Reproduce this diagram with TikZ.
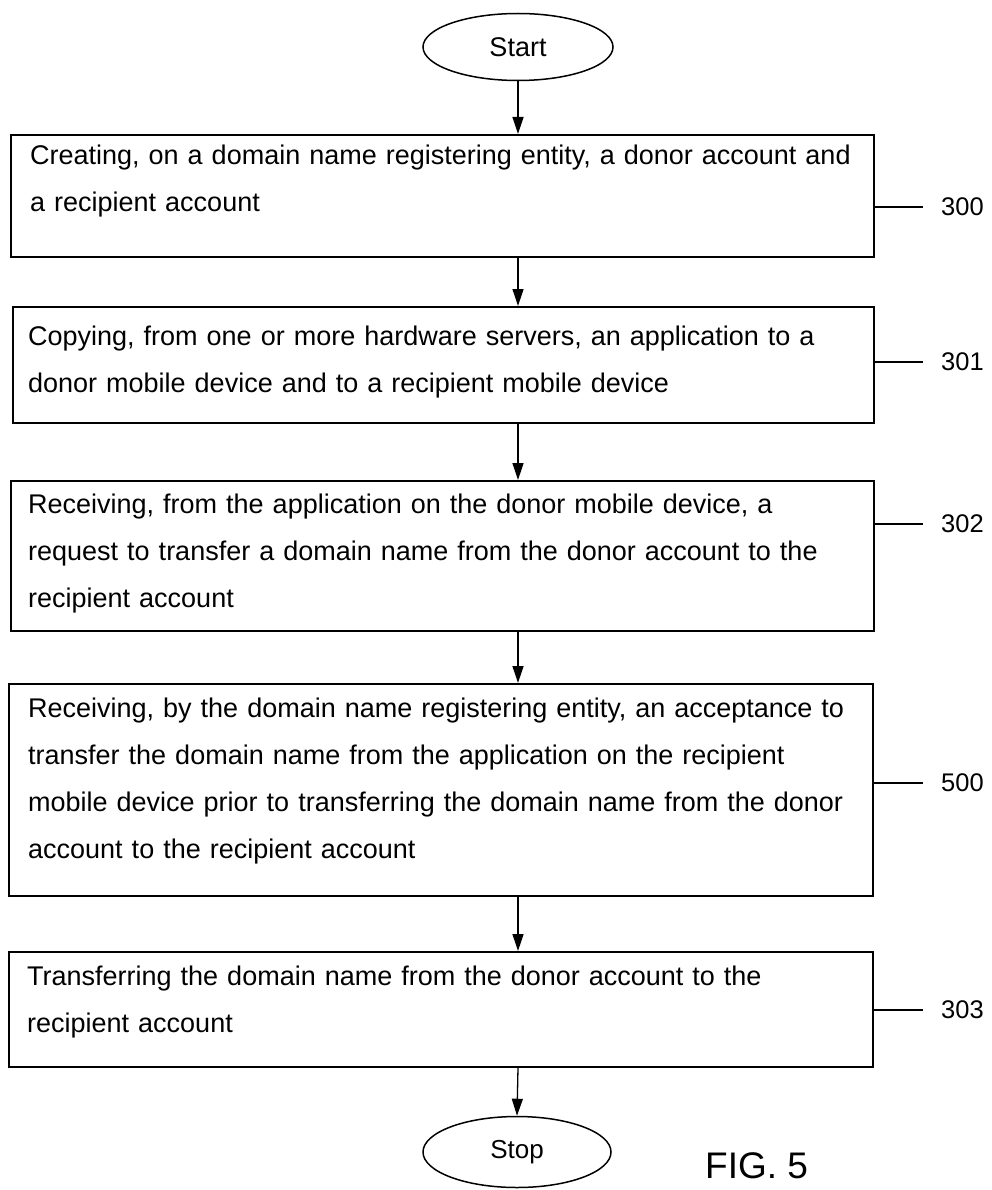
\documentclass[tikz,border=0pt]{standalone}
\usepackage{fontspec}
\setmainfont{Liberation Sans}
\usetikzlibrary{arrows.meta,shapes.geometric}
\begin{document}
\begin{tikzpicture}[x=1pt,y=-1pt,
  boxnode/.style={draw=black, line width=1.6pt, rectangle, anchor=north west, inner sep=0pt},
  bodytext/.style={anchor=base west, inner sep=0pt, text width=850pt, align=left, font=\fontsize{27pt}{47pt}\selectfont},
  term/.style={draw=black, ellipse, line width=1.5pt, inner sep=0pt},
  flow/.style={line width=1.3pt, -{Triangle[width=11pt,length=17pt]}},
  tick/.style={line width=1.5pt},
  reflabel/.style={anchor=west, inner sep=0pt, font=\fontsize{25.5pt}{30pt}\selectfont}
]
\useasboundingbox (0,0) rectangle (992,1190);

\node[term, minimum width=190pt, minimum height=67pt, font=\fontsize{27pt}{32pt}\selectfont] (start) at (518,47) {Start};

\node[boxnode, minimum width=863pt, minimum height=122pt] (b1) at (10,134) {};
\node[boxnode, minimum width=861pt, minimum height=116pt] (b2) at (12,306) {};
\node[boxnode, minimum width=863pt, minimum height=150pt] (b3) at (10,480) {};
\node[boxnode, minimum width=864pt, minimum height=212pt] (b4) at (8,683) {};
\node[boxnode, minimum width=864pt, minimum height=115pt] (b5) at (8,951) {};

\node[bodytext] (t1) at (30,165) {Creating, on a domain name registering entity, a donor account and\\a recipient account};
\node[bodytext] (t2) at (28,345) {Copying, from one or more hardware servers, an application to a\\donor mobile device and to a recipient mobile device};
\node[bodytext] (t3) at (28,513) {Receiving, from the application on the donor mobile device, a\\request to transfer a domain name from the donor account to the\\recipient account};
\node[bodytext] (t4) at (28,717) {Receiving, by the domain name registering entity, an acceptance to\\transfer the domain name from the application on the recipient\\mobile device prior to transferring the domain name from the donor\\account to the recipient account};
\node[bodytext] (t5) at (27,985) {Transferring the domain name from the donor account to the\\recipient account};

\node[term, minimum width=188pt, minimum height=71pt, font=\fontsize{26pt}{30pt}\selectfont] (stop) at (517,1152) {Stop};

\node[anchor=base west, inner sep=0pt, font=\fontsize{37pt}{44pt}\selectfont] (fig) at (705,1178) {FIG. 5};

\draw[flow] (start.south) -- (start.south |- b1.north);
\draw[flow] (b1.south -| start) -- (b2.north -| start);
\draw[flow] (b2.south -| start) -- (b3.north -| start);
\draw[flow] (b3.south -| start) -- (b4.north -| start);
\draw[flow] (b4.south -| start) -- (b5.north -| start);
\draw[flow] (b5.south -| start) -- (stop.north);

\node[reflabel] (l300) at (941,207) {300};
\node[reflabel] (l301) at (941,362) {301};
\node[reflabel] (l302) at (941,524) {302};
\node[reflabel] (l500) at (941,783) {500};
\node[reflabel] (l303) at (941,1010) {303};

\draw[tick, line width=2.4pt] (b1.east |- l300) -- ([xshift=-18pt]l300.west);
\draw[tick] (b2.east |- l301) -- ([xshift=-18pt]l301.west);
\draw[tick] (b3.east |- l302) -- ([xshift=-18pt]l302.west);
\draw[tick] (b4.east |- l500) -- ([xshift=-18pt]l500.west);
\draw[tick] (b5.east |- l303) -- ([xshift=-18pt]l303.west);
\end{tikzpicture}
\end{document}
